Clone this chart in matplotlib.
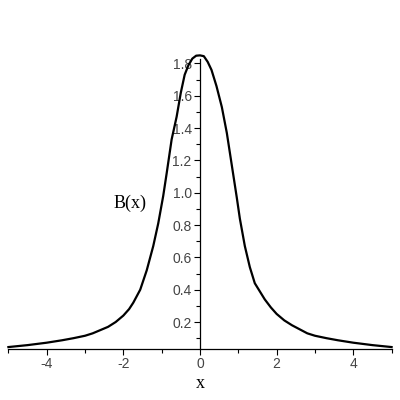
import matplotlib
matplotlib.use("Agg")
import matplotlib.pyplot as plt
import numpy as np

# values
x_vals = [-5.0, -4.5, -4.0, -3.6, -3.3, -3.0, -2.8, -2.6, -2.4, -2.2,
          -2.0, -1.85, -1.74, -1.56, -1.39, -1.22, -1.09, -0.96, -0.87, -0.74,
          -0.61, -0.5, -0.4, -0.3, -0.2, -0.1, 0.0, 0.1, 0.2, 0.3,
          0.43, 0.57, 0.70, 0.83, 0.96, 1.04, 1.17, 1.30, 1.43, 1.56,
          1.69, 1.85, 2.0, 2.2, 2.4, 2.6, 2.8, 3.0, 3.3, 3.6,
          4.0, 4.5, 5.0]
b_vals = [0.045, 0.057, 0.072, 0.087, 0.10, 0.115, 0.13, 0.15, 0.17, 0.20,
          0.24, 0.28, 0.32, 0.40, 0.52, 0.67, 0.81, 0.98, 1.12, 1.33,
          1.47, 1.62, 1.73, 1.79, 1.83, 1.848, 1.85, 1.845, 1.81, 1.76,
          1.66, 1.53, 1.37, 1.17, 0.97, 0.84, 0.67, 0.54, 0.44, 0.39,
          0.34, 0.29, 0.25, 0.21, 0.18, 0.155, 0.13, 0.115, 0.10, 0.087,
          0.072, 0.057, 0.045]

xticks = [-4, -2, 0, 2, 4]
xtick_labels = ['-4', '-2', '0', '2', '4']
xminor = [-5, -3, -1, 1, 3, 5]
yticks = [0.2, 0.4, 0.6, 0.8, 1.0, 1.2, 1.4, 1.6, 1.8]
ytick_labels = ['0.2', '0.4', '0.6', '0.8', '1.0', '1.2', '1.4', '1.6', '1.8']
yminor = [0.1, 0.3, 0.5, 0.7, 0.9, 1.1, 1.3, 1.5, 1.7]

fig = plt.figure(figsize=(4, 4), dpi=100)
ax = fig.add_axes([0.021, 0.1275, 0.958, 0.726])

ax.plot(x_vals, b_vals, color='black', lw=1.6, clip_on=False)
ax.set_xlim(-5, 5)
ax.set_ylim(0.033, 1.83)

# maple style axes: y axis through x=0, x axis along the bottom
ax.spines['left'].set_position(('data', 0))
ax.spines['top'].set_visible(False)
ax.spines['right'].set_visible(False)
for s in ['left', 'bottom']:
    ax.spines[s].set_linewidth(0.9)

ax.set_xticks(xticks)
ax.set_xticklabels(xtick_labels)
ax.set_xticks(xminor, minor=True)
ax.set_yticks(yticks)
ax.set_yticklabels(ytick_labels)
ax.set_yticks(yminor, minor=True)

ax.tick_params(which='major', length=4, width=0.8, direction='out', pad=2,
               labelsize=10, labelcolor='#444444')
ax.tick_params(which='minor', length=3, width=0.8, direction='out')
for lab in ax.get_xticklabels() + ax.get_yticklabels():
    lab.set_family('Liberation Sans')

fig.text(0.5, 1 - 383 / 400, 'x', family='Liberation Serif', fontsize=13,
         ha='center', va='center')
fig.text(0.325, 1 - 203 / 400, 'B(x)', family='Liberation Serif', fontsize=13,
         ha='center', va='center')

fig.savefig('out.png', dpi=100)
